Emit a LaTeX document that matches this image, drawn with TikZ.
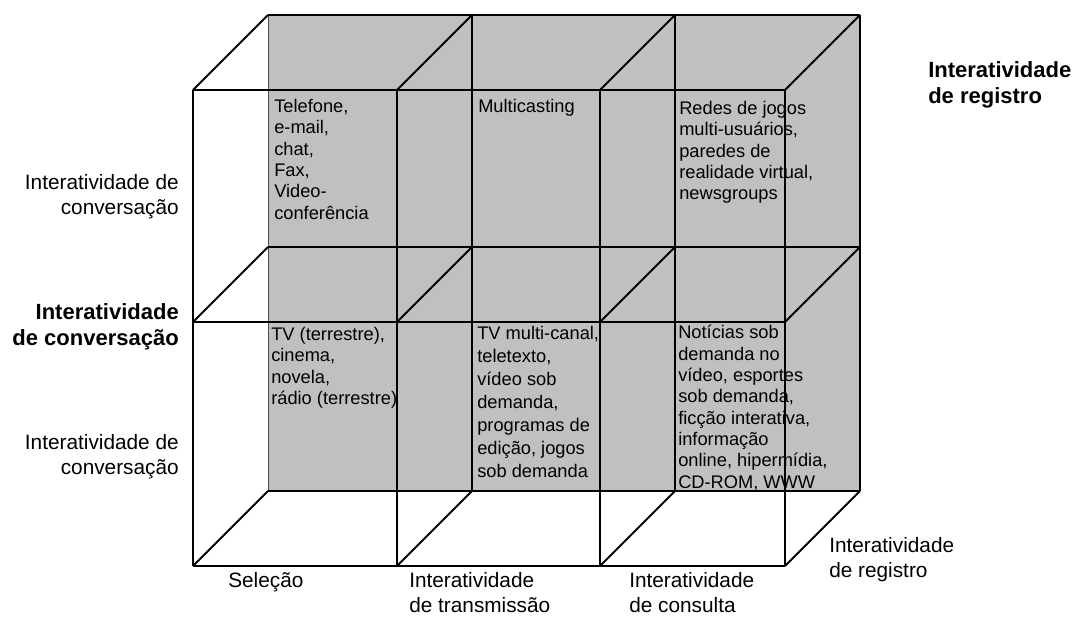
\documentclass[tikz,border=0pt]{standalone}
\usepackage{fontspec}
\setmainfont{Liberation Sans}
\definecolor{backgray}{RGB}{192,192,192}

\tikzset{
  edge/.style={line width=1.5pt},
  celltext/.style={anchor=north west, inner sep=0pt, align=left,
    font=\fontsize{13.7}{16}\selectfont},
  axislabel/.style={inner sep=0pt, font=\fontsize{15.6}{18.8}\selectfont},
  axisbold/.style={inner sep=0pt, font=\bfseries\fontsize{16.5}{19.5}\selectfont},
}

\begin{document}
\begin{tikzpicture}[x=0.75pt,y=-0.75pt]
\useasboundingbox (0,0) rectangle (1081,619);

% corners of front (f) and back (b) grid
\foreach \x [count=\i] in {193,397,600,785} {
  \foreach \y [count=\j] in {90,322,566} {
    \coordinate (f\i\j) at (\x,\y);
    \coordinate (b\i\j) at (\x+75,\y-75);
  }
}

\fill[backgray] (b11) rectangle (b43);
\draw[line width=0.5pt, black!70] (b11) -- (b13);

% cell texts
\node[celltext] (tel) at (274,99) {Telefone,\\e-mail,\\chat,\\Fax,\\Video-\\conferência};
\node[celltext] (multi) at (478,99) {Multicasting};
\node[celltext] (redes) at (679,101) {Redes de jogos\\multi-usuários,\\paredes de\\realidade virtual,\\newsgroups};
\node[celltext] (tv) at (271,327) {TV (terrestre),\\cinema,\\novela,\\rádio (terrestre)};
\node[celltext, font=\fontsize{13.7}{17.2}\selectfont] (tvmulti) at (477,326) {TV multi-canal,\\teletexto,\\vídeo sob\\demanda,\\programas de\\edição, jogos\\sob demanda};
\node[celltext] (noticias) at (678,325) {Notícias sob\\demanda no\\vídeo, esportes\\sob demanda,\\ficção interativa,\\informação\\online, hipermídia,\\CD-ROM, WWW};

% back face
\draw[edge] (b11) -- (b41);
\draw[edge] (b12) -- (b42);
\draw[edge] (b13) -- (b43);
\foreach \i in {2,3,4}
  \draw[edge] (b\i1) -- (b\i3);

% front face
\foreach \j in {1,2,3}
  \draw[edge] (f1\j) -- (f4\j);
\foreach \i in {1,2,3,4}
  \draw[edge] (f\i1) -- (f\i3);

% depth edges
\foreach \i in {1,2,3,4}
  \foreach \j in {1,2,3}
    \draw[edge] (f\i\j) -- (b\i\j);

% axis labels
\node[axisbold, anchor=north west, align=left] (regtop) at (928,61) {Interatividade\\de registro};
\node[axislabel, anchor=east, align=right] (convtop) at (179,197) {Interatividade de\\conversação};
\node[axisbold, anchor=east, align=right] (convmid) at (179,327) {Interatividade\\de conversação};
\node[axislabel, anchor=east, align=right] (convbot) at (179,457) {Interatividade de\\conversação};
\node[axislabel, anchor=north west] (selecao) at (228,572) {Seleção};
\node[axislabel, anchor=north west, align=left] (transm) at (409,572) {Interatividade\\de transmissão};
\node[axislabel, anchor=north west, align=left] (consulta) at (629,572) {Interatividade\\de consulta};
\node[axislabel, anchor=north west, align=left] (regbot) at (829,537) {Interatividade\\de registro};

\end{tikzpicture}
\end{document}
